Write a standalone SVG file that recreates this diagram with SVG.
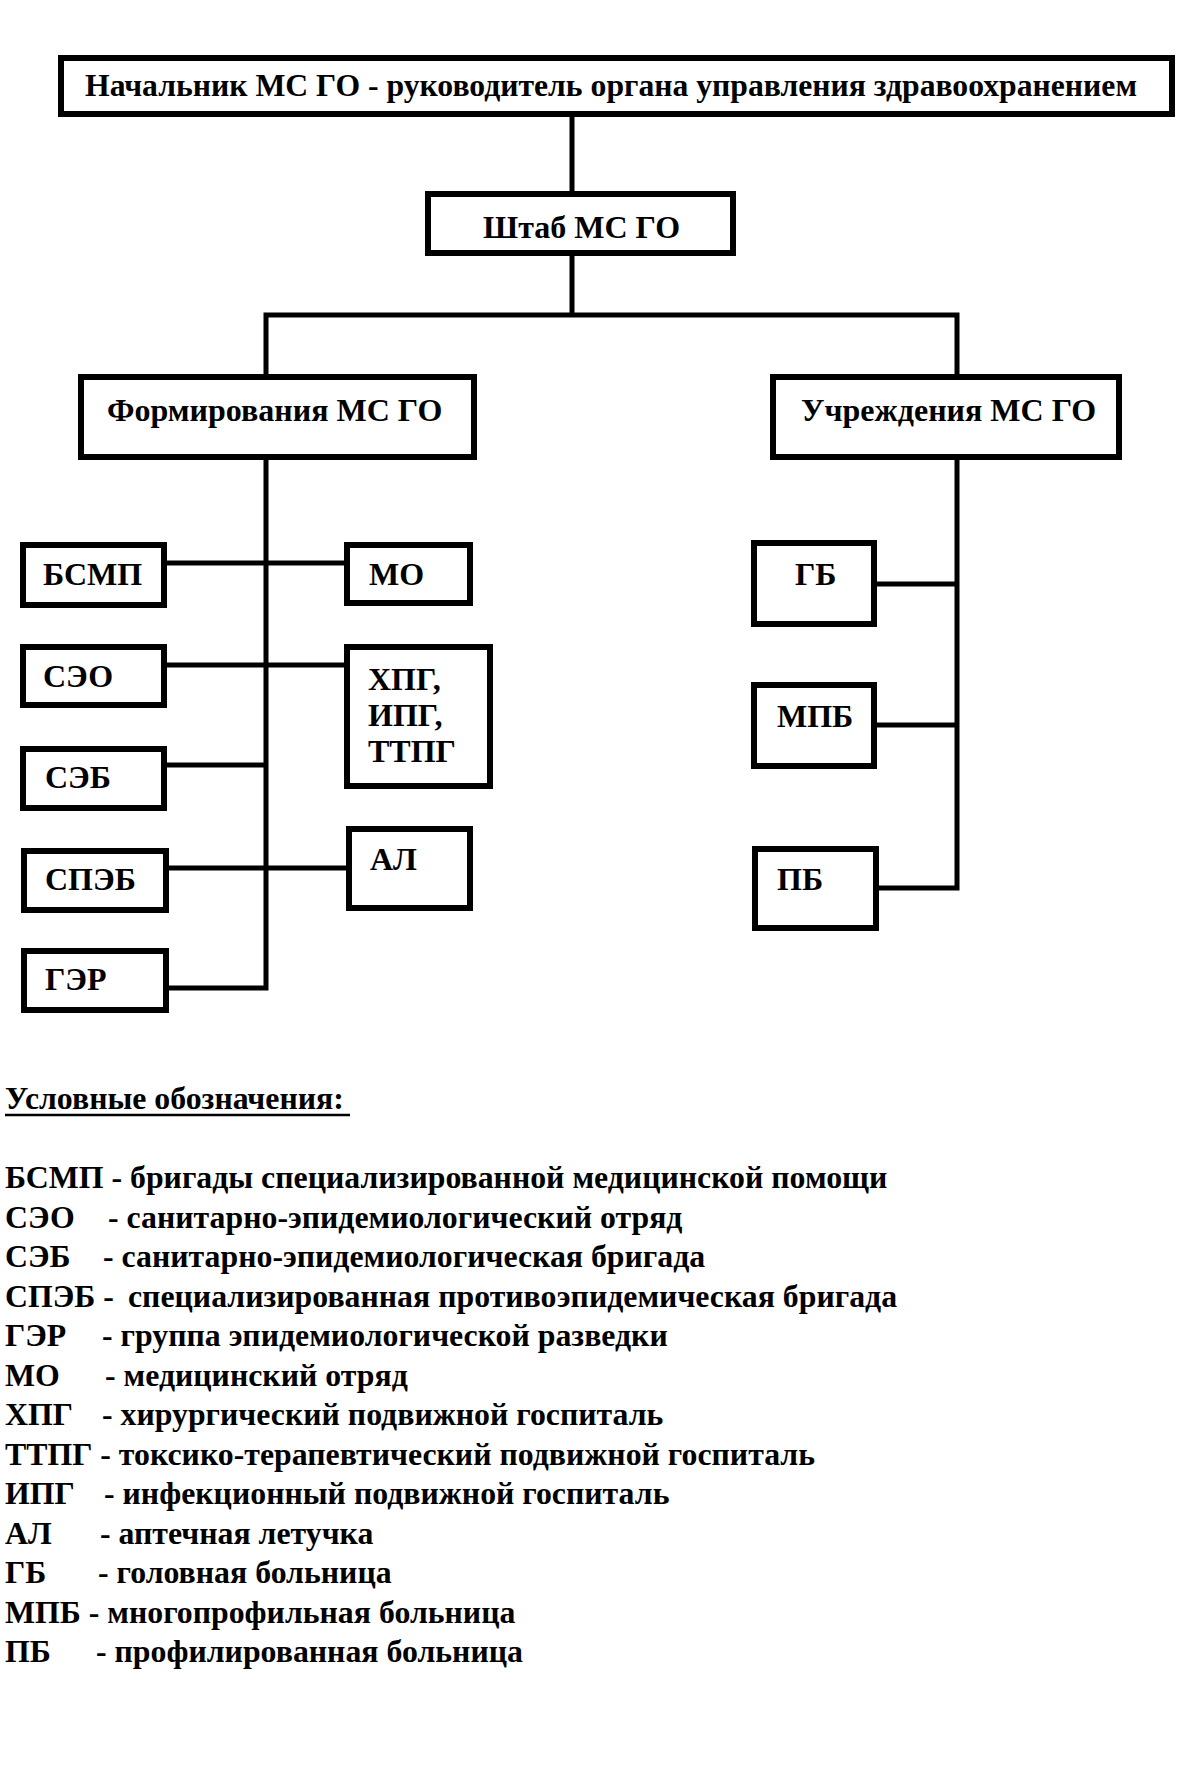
<svg xmlns="http://www.w3.org/2000/svg" width="1204" height="1778" viewBox="0 0 1204 1778">
<style>
.box{fill:#fff;stroke:#000;stroke-width:6}
.lbl{font-family:"Liberation Serif","Times New Roman",serif;font-weight:bold;font-size:32px;fill:#000}
.leg{font-family:"Liberation Serif","Times New Roman",serif;font-weight:bold;font-size:31.8px;fill:#000}
.con{fill:none;stroke:#000;stroke-width:5}
</style>
<rect width="1204" height="1778" fill="#fff"/>
<g id="connectors">
<line class="con" x1="572" y1="116" x2="572" y2="192"/>
<line class="con" x1="572" y1="255" x2="572" y2="315"/>
<polyline class="con" points="266,376 266,315 957,315 957,376"/>
<polyline class="con" points="266,459 266,988 168,988"/>
<polyline class="con" points="957,459 957,888 878,888"/>
<line class="con" x1="166" y1="563" x2="345" y2="563"/>
<line class="con" x1="166" y1="665" x2="345" y2="665"/>
<line class="con" x1="166" y1="765" x2="266" y2="765"/>
<line class="con" x1="168" y1="868" x2="347" y2="868"/>
<line class="con" x1="876" y1="584" x2="957" y2="584"/>
<line class="con" x1="876" y1="725" x2="957" y2="725"/>
</g>
<g id="n-head"><rect class="box" x="61" y="58" width="1111" height="56"/><text class="lbl" x="85" y="96" textLength="1052" lengthAdjust="spacingAndGlyphs">Начальник МС ГО - руководитель органа управления здравоохранением</text></g>
<g id="n-shtab"><rect class="box" x="428" y="194" width="305" height="59"/><text class="lbl" x="483" y="238">Штаб МС ГО</text></g>
<g id="n-form"><rect class="box" x="81" y="377" width="393" height="80"/><text class="lbl" x="107" y="421">Формирования МС ГО</text></g>
<g id="n-uchr"><rect class="box" x="773" y="377" width="346" height="80"/><text class="lbl" x="801" y="421">Учреждения МС ГО</text></g>
<g id="n-bsmp"><rect class="box" x="23" y="545" width="141" height="60"/><text class="lbl" x="43" y="585">БСМП</text></g>
<g id="n-seo"><rect class="box" x="23" y="647" width="141" height="58"/><text class="lbl" x="43" y="687">СЭО</text></g>
<g id="n-seb"><rect class="box" x="23" y="749" width="141" height="59"/><text class="lbl" x="45" y="788">СЭБ</text></g>
<g id="n-speb"><rect class="box" x="24" y="851" width="142" height="59"/><text class="lbl" x="45" y="890">СПЭБ</text></g>
<g id="n-ger"><rect class="box" x="24" y="951" width="142" height="59"/><text class="lbl" x="45" y="990">ГЭР</text></g>
<g id="n-mo"><rect class="box" x="347" y="545" width="123" height="58"/><text class="lbl" x="369" y="585">МО</text></g>
<g id="n-hpg"><rect class="box" x="347" y="647" width="143" height="139"/><text class="lbl" x="368" y="690">ХПГ,</text><text class="lbl" x="368" y="726">ИПГ,</text><text class="lbl" x="368" y="762">ТТПГ</text></g>
<g id="n-al"><rect class="box" x="349" y="829" width="121" height="79"/><text class="lbl" x="370" y="870">АЛ</text></g>
<g id="n-gb"><rect class="box" x="754" y="543" width="120" height="81"/><text class="lbl" x="795" y="585">ГБ</text></g>
<g id="n-mpb"><rect class="box" x="754" y="685" width="120" height="81"/><text class="lbl" x="777" y="727">МПБ</text></g>
<g id="n-pb"><rect class="box" x="755" y="849" width="121" height="79"/><text class="lbl" x="777" y="890">ПБ</text></g>
<g id="legend">
<text class="leg" x="5" y="1109">Условные обозначения:</text>
<line x1="5" y1="1115" x2="350" y2="1115" stroke="#000" stroke-width="2.5"/>
<text class="leg" y="1188"><tspan x="5">БСМП - бригады специализированной медицинской помощи</tspan></text>
<text class="leg" y="1228"><tspan x="5">СЭО</tspan><tspan x="108">- санитарно-эпидемиологический отряд</tspan></text>
<text class="leg" y="1267"><tspan x="5">СЭБ</tspan><tspan x="103">- санитарно-эпидемиологическая бригада</tspan></text>
<text class="leg" y="1307"><tspan x="5">СПЭБ -</tspan><tspan x="128">специализированная противоэпидемическая бригада</tspan></text>
<text class="leg" y="1346"><tspan x="5">ГЭР</tspan><tspan x="102">- группа эпидемиологической разведки</tspan></text>
<text class="leg" y="1386"><tspan x="5">МО</tspan><tspan x="105">- медицинский отряд</tspan></text>
<text class="leg" y="1425"><tspan x="5">ХПГ</tspan><tspan x="102">- хирургический подвижной госпиталь</tspan></text>
<text class="leg" y="1465"><tspan x="5">ТТПГ - токсико-терапевтический подвижной госпиталь</tspan></text>
<text class="leg" y="1504"><tspan x="5">ИПГ</tspan><tspan x="104">- инфекционный подвижной госпиталь</tspan></text>
<text class="leg" y="1544"><tspan x="5">АЛ</tspan><tspan x="100">- аптечная летучка</tspan></text>
<text class="leg" y="1583"><tspan x="5">ГБ</tspan><tspan x="98">- головная больница</tspan></text>
<text class="leg" y="1623"><tspan x="5">МПБ - многопрофильная больница</tspan></text>
<text class="leg" y="1662"><tspan x="5">ПБ</tspan><tspan x="96">- профилированная больница</tspan></text>
</g>
</svg>
